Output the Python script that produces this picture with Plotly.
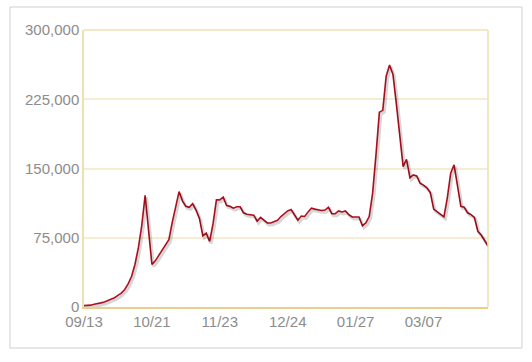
import plotly.graph_objects as go

values = [
    1500, 1500, 2000, 3000, 3500, 4500, 5500, 7000, 8000, 10000,
    12500, 15000, 19000, 25000, 33000, 46000, 64000, 88000, 121000, 80000,
    46000, 50000, 56000, 62000, 68000, 73000, 92000, 107000, 125000, 115000,
    109000, 108000, 112000, 105000, 96000, 77000, 80000, 71000, 90000, 116000,
    116000, 119000, 110000, 109000, 107000, 108500, 108500, 102000, 100500, 100000,
    99500, 93000, 97000, 94000, 91000, 91000, 92500, 94000, 98000, 101000,
    104000, 105500, 100000, 94000, 98500, 98000, 103000, 107000, 106000, 105000,
    104500, 105000, 108000, 101000, 101000, 104000, 103000, 104000, 100000, 97500,
    97500, 97500, 88000, 91000, 98000, 123000, 165000, 211000, 213000, 250000,
    262000, 252000, 220000, 185000, 152000, 160000, 140000, 143000, 142000, 134000,
    132000, 129000, 124000, 106000, 103000, 101000, 97700, 118000, 145000, 154000,
    130000, 109000, 108000, 102000, 100000, 97000, 82000, 78000, 72000, 66000,
]
x_index = list(range(len(values)))
tick_positions = [0, 20, 40, 60, 80, 100]
tick_labels = ["09/13", "10/21", "11/23", "12/24", "01/27", "03/07"]
y_ticks = [0, 75000, 150000, 225000, 300000]

fig = go.Figure()

# soft shadow under the line (same data on an overlaid, slightly shifted axis pair)
fig.add_trace(go.Scatter(
    x=x_index, y=values, mode="lines", xaxis="x2", yaxis="y2",
    line=dict(color="rgba(0,0,0,0.16)", width=3), hoverinfo="skip", showlegend=False,
))
fig.add_trace(go.Scatter(
    x=x_index, y=values, mode="lines",
    line=dict(color="#b01020", width=1.6), showlegend=False,
))

n = len(values) - 1
px_x = n / 404.0
px_y = 300000 / 277.0
font = dict(family="Liberation Sans, Arial, sans-serif", size=15, color="#8c8c8c")

fig.update_layout(
    width=532, height=362,
    margin=dict(l=84, r=44, t=30, b=55),
    paper_bgcolor="white", plot_bgcolor="white",
    font=font,
    xaxis=dict(
        range=[0, n], tickmode="array", tickvals=tick_positions, ticktext=tick_labels,
        showgrid=False, zeroline=False, showline=True, linecolor="#e8d08c", linewidth=1.5,
        mirror=False, ticks="", tickfont=font,
    ),
    yaxis=dict(
        range=[0, 300000], tickmode="array", tickvals=y_ticks,
        ticktext=[f"{v:,}" for v in y_ticks],
        showgrid=True, gridcolor="#f5ecd2", gridwidth=1.5,
        zeroline=False, showline=True, linecolor="#efe0b0", linewidth=1.5,
        ticks="", tickfont=font,
    ),
    xaxis2=dict(range=[0 - 1.5 * px_x, n - 1.5 * px_x], overlaying="x", visible=False, showgrid=False),
    yaxis2=dict(range=[0 + 2 * px_y, 300000 + 2 * px_y], overlaying="y", visible=False, showgrid=False),
    shapes=[
        dict(type="rect", xref="paper", yref="paper", x0=1, x1=1, y0=0, y1=1,
             line=dict(color="#efe0b0", width=1.5)),
        dict(type="line", xref="paper", yref="paper", x0=0, x1=1, y0=1, y1=1,
             line=dict(color="#efe0b0", width=1.5)),
        dict(type="rect", xref="paper", yref="paper",
             x0=(10 - 84) / 404.0, x1=(522 - 84) / 404.0,
             y0=-(348 - 307) / 277.0, y1=1 + (30 - 7) / 277.0,
             line=dict(color="#cfcfcf", width=1), layer="below"),
    ],
)

fig.write_html("out.html")
